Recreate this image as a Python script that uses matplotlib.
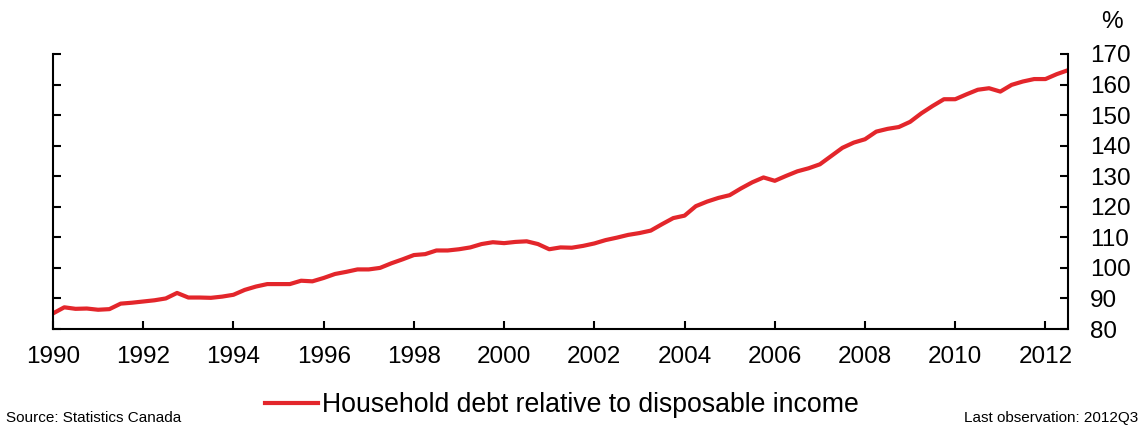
import matplotlib
matplotlib.use("Agg")
import matplotlib.pyplot as plt
import numpy as np

plt.rcParams['font.family'] = ['Liberation Sans', 'DejaVu Sans']

start_year = 1990
quarters_per_year = 4
debt_ratio = [
    85.1, 87.1, 86.6, 86.7, 86.3, 86.5, 88.3, 88.6, 89.0, 89.4,
    90.0, 91.8, 90.3, 90.3, 90.2, 90.6, 91.2, 92.8, 93.9, 94.7,
    94.7, 94.7, 95.8, 95.6, 96.7, 98.0, 98.7, 99.5, 99.5, 100.0,
    101.5, 102.8, 104.2, 104.5, 105.7, 105.7, 106.1, 106.7, 107.8, 108.4,
    108.1, 108.5, 108.7, 107.8, 106.1, 106.7, 106.6, 107.2, 108.0, 109.1,
    109.9, 110.8, 111.4, 112.2, 114.3, 116.3, 117.1, 120.2, 121.7, 122.9,
    123.8, 126.0, 128.0, 129.6, 128.5, 130.1, 131.6, 132.6, 133.9, 136.6,
    139.3, 141.0, 142.1, 144.6, 145.5, 146.1, 147.8, 150.6, 153.0, 155.2,
    155.2, 156.8, 158.3, 158.8, 157.7, 159.9, 161.0, 161.8, 161.8, 163.4,
    164.7,
]
x_ticks = list(range(1990, 2013, 2))
y_ticks = list(range(80, 171, 10))
series_label = "Household debt relative to disposable income"
source_text = "Source: Statistics Canada"
last_obs_text = "Last observation: 2012Q3"

dates = start_year + np.arange(len(debt_ratio)) / quarters_per_year

fig = plt.figure(figsize=(11.43, 4.29), dpi=100)
ax = fig.add_axes([53/1143, 1-329/429, (1068-53)/1143, (329-54)/429])

line, = ax.plot(dates, debt_ratio, color='#E3262B', lw=3.0, solid_joinstyle='round',
                label=series_label)

ax.set_xlim(1990, dates[-1])
ax.set_ylim(80, 170)
ax.set_xticks(x_ticks)
ax.set_yticks(y_ticks)

ax.spines['top'].set_visible(False)
for s in ['left', 'right', 'bottom']:
    ax.spines[s].set_linewidth(1.5)
    ax.spines[s].set_color('black')

ax.tick_params(axis='x', direction='in', length=6, width=1.5, labelsize=17.5, pad=12)
ax.tick_params(axis='y', direction='in', length=6, width=1.5, labelsize=17.5, pad=16,
               left=True, right=True, labelleft=False, labelright=True)

fig.text(1112/1143, 1-22/429, "%", fontsize=17.5, ha='center', va='center')

leg = ax.legend(handles=[line], loc='center left', bbox_to_anchor=(265/1143, 1-405/429),
                bbox_transform=fig.transFigure, frameon=False, fontsize=19.2,
                handlelength=2.0, handletextpad=0.15, borderpad=0, borderaxespad=0)

fig.text(6/1143, 1-418/429, source_text, fontsize=11, ha='left', va='center')
fig.text(1138/1143, 1-418/429, last_obs_text, fontsize=11, ha='right', va='center')

fig.savefig("out.png", dpi=100)
